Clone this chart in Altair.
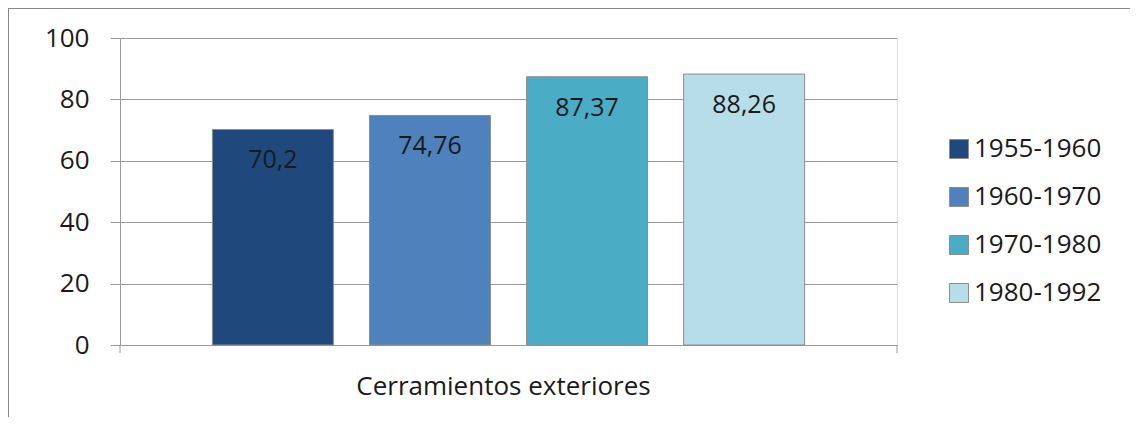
import altair as alt
import pandas as pd

category = ["Cerramientos exteriores"] * 4
periods = ["1955-1960", "1960-1970", "1970-1980", "1980-1992"]
values = [70.2, 74.76, 87.37, 88.26]
labels = ["70,2", "74,76", "87,37", "88,26"]
colors = ["#1F497D", "#4F81BD", "#4BACC6", "#B7DDE8"]

df = pd.DataFrame({"cat": category, "period": periods, "value": values, "label": labels})

FONT = "Open Sans"
W, H = 777, 307

x_enc = alt.X("cat:N", title=None,
              scale=alt.Scale(paddingInner=0, paddingOuter=0.156),
              axis=alt.Axis(labelAngle=0, labelFontSize=26, labelFont=FONT, labelColor="#1a1a1a",
                            labelPadding=28, labelOffset=-5, labelLimit=0, ticks=False, domain=True,
                            domainColor="#999999", domainWidth=1))
xo_enc = alt.XOffset("period:N", scale=alt.Scale(paddingInner=0.23, paddingOuter=0))

bars = alt.Chart(df).mark_bar(stroke="#8c8c8c", strokeWidth=1).encode(
    x=x_enc,
    xOffset=xo_enc,
    y=alt.Y("value:Q", title=None,
            scale=alt.Scale(domain=[0, 100]),
            axis=alt.Axis(values=[0, 20, 40, 60, 80, 100], labelFontSize=26, labelFont=FONT,
                          labelColor="#1a1a1a", labelPadding=21, tickSize=10, tickColor="#999999",
                          domainColor="#999999", gridColor="#999999", gridWidth=1,
                          grid=True)),
    color=alt.Color("period:N", title=None,
                    scale=alt.Scale(domain=periods, range=colors),
                    legend=alt.Legend(orient="none", legendX=826, legendY=98,
                                      symbolType="square", symbolSize=360,
                                      symbolStrokeColor="#8c8c8c", symbolStrokeWidth=1,
                                      labelFontSize=26, labelFont=FONT, labelColor="#1a1a1a",
                                      labelOffset=2, rowPadding=22)),
)

text = alt.Chart(df).mark_text(fontSize=25, font=FONT, color="#1a1a1a", baseline="middle", dy=31).encode(
    x=alt.X("cat:N"),
    xOffset=alt.XOffset("period:N"),
    y=alt.Y("value:Q"),
    text="label:N",
)

one = pd.DataFrame({"k": [0]})
border_top = alt.Chart(one).mark_rule(color="#888888", strokeWidth=2).encode(
    x=alt.value(-112), x2=alt.value(1200), y=alt.value(-30))
border_left = alt.Chart(one).mark_rule(color="#888888", strokeWidth=2).encode(
    x=alt.value(-112), y=alt.value(-30), y2=alt.value(420))
tick_l = alt.Chart(one).mark_rule(color="#999999", strokeWidth=1).encode(
    x=alt.value(0), y=alt.value(H), y2=alt.value(H + 8))
tick_r = alt.Chart(one).mark_rule(color="#999999", strokeWidth=1).encode(
    x=alt.value(W), y=alt.value(H), y2=alt.value(H + 8))

chart = alt.layer(bars, text, border_top, border_left, tick_l, tick_r).properties(
    width=W, height=H,
    autosize=alt.AutoSizeParams(type="none"),
    padding={"left": 112, "top": 30, "right": 233, "bottom": 72},
).configure_view(stroke=None).configure(background="white")

chart.save("out.html", embed_options={"renderer": "svg", "actions": False})
